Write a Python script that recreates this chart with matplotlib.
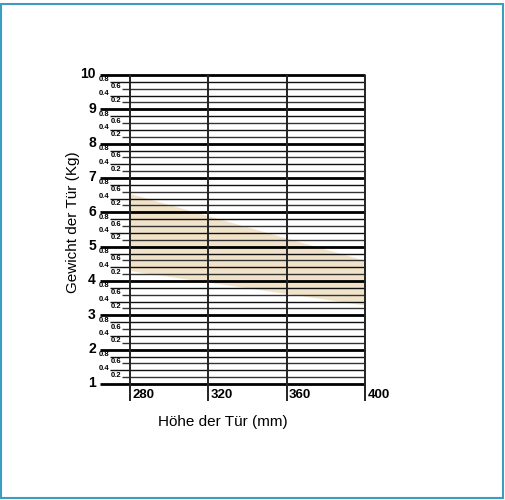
import numpy as np
import matplotlib
matplotlib.use("Agg")
import matplotlib.pyplot as plt
import matplotlib.patches as patches
import matplotlib.transforms as mtransforms

# data
hoehe = [280, 320, 360, 400]
gewicht_major = [1, 2, 3, 4, 5, 6, 7, 8, 9, 10]
gewicht_minor = [0.2, 0.4, 0.6, 0.8]
band_x = [280, 400]
band_oben = [6.55, 4.6]
band_unten = [4.3, 3.3]

plt.rcParams['font.family'] = ['Liberation Sans', 'DejaVu Sans']

fig = plt.figure(figsize=(5.06, 5.0), dpi=100)
ax = fig.add_axes([130 / 506, 116 / 500, 235 / 506, 309 / 500])
ax.set_xlim(280, 400)
ax.set_ylim(1, 10)
ax.axis('off')

# border of the picture
fig.patches.append(patches.Rectangle((1.5 / 506, 2.5 / 500), 502 / 506, 494 / 500,
                                     transform=fig.transFigure, fill=False,
                                     edgecolor='#3d9cc2', lw=1.5))

ax.fill_between(band_x, band_unten, band_oben, color='#f1e3c9', lw=0, zorder=1)

trans = mtransforms.blended_transform_factory(ax.transAxes, ax.transData)
trans_x = mtransforms.blended_transform_factory(ax.transData, ax.transAxes)

# horizontal lines
for g in gewicht_major:
    ax.plot([-0.128, 1.0], [g, g], transform=trans, color='black', lw=2.0,
            clip_on=False, zorder=3, solid_capstyle='butt')
    ax.text(-0.145, g + 0.02, str(g), transform=trans, ha='right', va='center',
            fontsize=10, fontweight='bold')
    if g == 10:
        continue
    for m in gewicht_minor:
        y = g + m
        start = -0.085 if m in (0.4, 0.8) else -0.034
        col = '#111111' if m in (0.4, 0.8) else '#333333'
        ax.plot([start, 1.0], [y, y], transform=trans, color=col, lw=1.0,
                clip_on=False, zorder=2, solid_capstyle='butt')
        ax.text(start - 0.004, y + 0.06, f"{m:.1f}", transform=trans, ha='right',
                va='center', fontsize=5.5, fontweight='bold')

# vertical lines
for h in hoehe:
    ax.plot([h, h], [-0.055, 1.0], transform=trans_x, color='#222222', lw=1.4,
            clip_on=False, zorder=4, solid_capstyle='butt')
    ax.text(h + 1.2, -0.035, str(h), transform=trans_x, ha='left', va='center',
            fontsize=9.5, fontweight='bold')

fig.text(223 / 506, 1 - 422 / 500, 'Höhe der Tür (mm)', ha='center', va='center',
         fontsize=11)
fig.text(73 / 506, 1 - 222 / 500, 'Gewicht der Tür (Kg)', ha='center', va='center',
         fontsize=11, rotation=90)

fig.savefig('out.png', dpi=100)
